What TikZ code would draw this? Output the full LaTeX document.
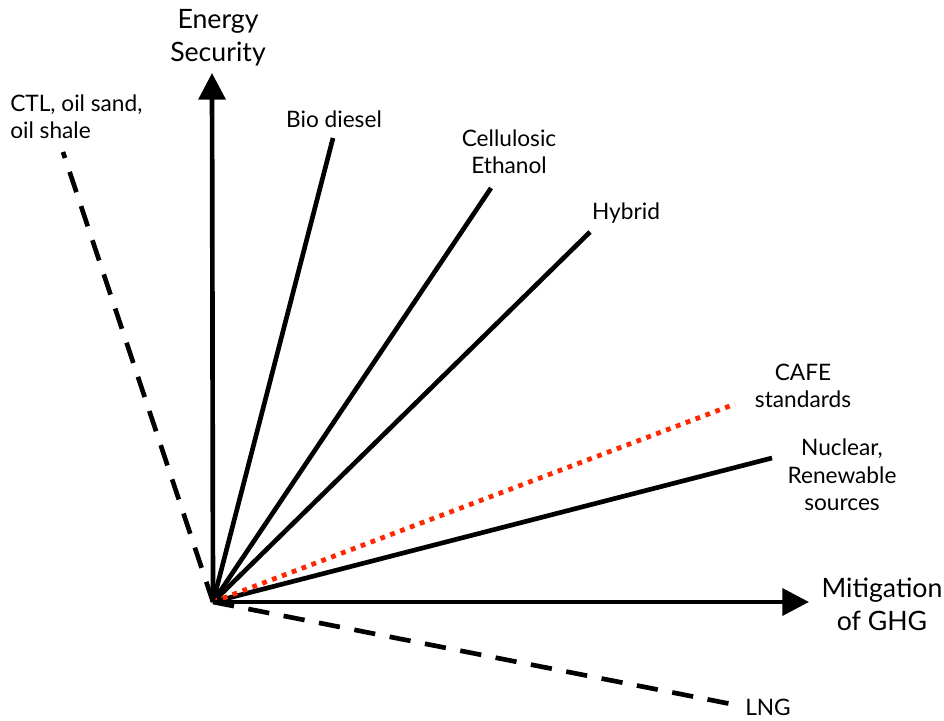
\documentclass[tikz,border=0pt]{standalone}
\usepackage{fontspec}
\setmainfont{Lato}
\usetikzlibrary{arrows.meta}
\begin{document}
\begin{tikzpicture}[x=0.75pt,y=-0.75pt,
  axis/.style={line width=3.5pt,-{Triangle[length=20pt,width=20pt]}},
  ray/.style={line width=3.5pt},
  dashray/.style={line width=3.5pt,dash pattern=on 16pt off 11pt},
  dotray/.style={line width=3.6pt,draw=cafered,dash pattern=on 3.6pt off 4.3pt},
  biglabel/.style={font=\fontsize{20}{25}\selectfont,align=center,inner sep=0pt},
  label/.style={font=\fontsize{17}{20.5}\selectfont,align=center,inner sep=0pt}]
\definecolor{cafered}{RGB}{255,40,0}
\useasboundingbox (0,0) rectangle (944,720);
% origin and ray end points
\coordinate (O) at (213,602);
\coordinate (ytip) at (212,73);
\coordinate (xtip) at (809,602);
\coordinate (bio) at (333,138);
\coordinate (cell) at (491,188);
\coordinate (hyb) at (590,232);
\coordinate (cafe) at (735,404);
\coordinate (nuc) at (772,458);
\coordinate (ctl) at (63,152);
\coordinate (lng) at (731,704);
% rays
\draw[dashray] (O) -- (ctl);
\draw[dashray] (O) -- (lng);
\draw[ray] (O) -- (bio);
\draw[ray] (O) -- (cell);
\draw[ray] (O) -- (hyb);
\draw[ray] (O) -- (nuc);
\draw[dotray] (O) -- (cafe);
% axes
\draw[axis] (O) -- (ytip);
\draw[axis] (O) -- (xtip);
% labels
\node[biglabel] (ylab) at (218,38) {Energy\\Security};
\node[biglabel] (xlab) at (882,604) {Mitigation\\of GHG};
\node[label] (biolab) at (334,119) {Bio diesel};
\node[label] (celllab) at (509,152) {Cellulosic\\Ethanol};
\node[label] (hyblab) at (626,213) {Hybrid};
\node[label] (cafelab) at (803,386) {CAFE\\standards};
\node[label] (nuclab) at (842,475) {Nuclear,\\Renewable\\sources};
\node[label,align=left,anchor=west] (ctllab) at (10,117) {CTL, oil sand,\\oil shale};
\node[label] (lnglab) at (768,707) {LNG};
\end{tikzpicture}
\end{document}
